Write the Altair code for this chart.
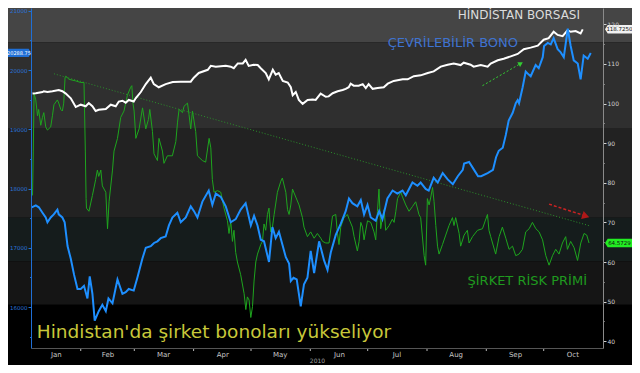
import altair as alt
import pandas as pd

# ---- data (day = day of year 2010, 1 = 1 Jan) ----
white_day = [6.8, 8.5, 12.0, 12.7, 14.6, 17.2, 20.5, 22.4, 24.2, 26.8,
             29.4, 32.0, 34.6, 36.2, 38.1, 39.8, 41.4, 45.1, 47.7, 50.3,
             51.9, 53.8, 55.5, 57.1, 59.7, 60.7, 63.4, 66.0, 68.6, 70.2,
             72.8, 76.4, 80.1, 84.3, 89.5, 91.1, 93.7, 98.4, 100.0, 102.6,
             107.8, 110.4, 112.0, 114.1, 116.7, 118.2, 119.8, 122.4, 124.5, 126.1,
             128.7, 130.3, 132.4, 133.9, 135.5, 137.6, 140.2, 141.8, 142.8, 144.4,
             146.0, 148.0, 150.6, 153.3, 154.8, 157.4, 160.1, 161.6, 163.7, 166.3,
             168.9, 170.5, 172.1, 173.1, 174.7, 177.3, 179.4, 181.0, 182.5, 184.6,
             187.2, 190.4, 192.5, 195.6, 200.3, 202.9, 206.1, 209.7, 213.4, 216.5,
             220.2, 223.8, 227.0, 230.6, 232.2, 235.8, 237.4, 241.1, 244.7, 246.3,
             250.0, 253.1, 256.8, 260.4, 263.6, 267.2, 270.9, 274.0, 276.6, 279.2,
             281.3, 283.9, 286.5, 288.1, 290.7, 293.3, 294.4]
white_val = [102.5, 102.6, 102.9, 103.1, 102.9, 103.1, 103.4, 103.1, 102.5, 101.3,
             99.1, 99.7, 99.3, 100.1, 99.3, 98.1, 98.4, 98.6, 99.7, 99.3,
             100.5, 100.7, 100.2, 100.9, 100.5, 101.3, 102.9, 104.9, 106.5, 104.9,
             104.1, 104.9, 105.4, 105.5, 105.5, 106.5, 107.7, 108.5, 109.5, 109.3,
             109.5, 109.3, 108.9, 110.1, 110.1, 111.0, 109.5, 109.8, 109.7, 108.9,
             107.7, 106.1, 108.5, 107.3, 107.7, 105.7, 105.3, 104.1, 102.1, 102.9,
             100.9, 99.9, 100.9, 101.0, 100.9, 102.5, 101.7, 101.8, 102.6, 103.1,
             103.4, 103.7, 104.1, 105.0, 104.5, 104.5, 104.9, 103.9, 104.9, 103.7,
             103.9, 104.1, 105.0, 105.7, 106.1, 106.1, 106.9, 107.1, 107.7, 108.1,
             109.3, 109.8, 110.1, 109.7, 110.3, 109.8, 109.3, 109.7, 109.3, 110.1,
             110.9, 111.3, 111.9, 112.5, 113.7, 114.1, 114.6, 116.1, 116.5, 118.1,
             117.3, 117.0, 118.5, 118.1, 118.3, 117.7, 118.7]

blue_day = [6.4, 8.5, 10.1, 12.0, 13.7, 14.6, 16.3, 17.9, 19.8, 20.5,
            22.4, 23.6, 25.1, 26.8, 28.5, 30.3, 32.0, 33.7, 35.5, 36.7,
            38.1, 39.3, 41.4, 43.3, 45.1, 46.5, 48.6, 51.2, 53.8, 55.5,
            57.1, 59.7, 61.6, 64.2, 66.0, 68.6, 70.3, 72.1, 73.8, 76.4,
            78.1, 79.9, 82.5, 84.3, 86.9, 89.5, 91.2, 93.0, 95.6, 98.9,
            100.8, 102.6, 105.2, 107.8, 110.4, 113.0, 115.6, 118.2, 120.9, 122.6,
            124.4, 126.1, 127.8, 130.4, 132.2, 133.9, 135.6, 137.4, 139.2, 140.9,
            141.8, 143.2, 144.9, 147.0, 148.7, 150.5, 152.2, 154.0, 156.6, 159.2,
            161.0, 162.7, 165.3, 167.9, 170.5, 172.2, 174.0, 176.6, 178.4, 180.1,
            181.9, 183.6, 186.2, 188.0, 189.7, 192.3, 195.0, 197.5, 200.2, 201.9,
            205.4, 208.0, 209.7, 212.3, 213.9, 216.5, 218.6, 221.2, 223.8, 226.5,
            229.1, 231.7, 232.4, 235.0, 237.6, 239.7, 241.3, 244.7, 247.5, 249.1,
            250.5, 252.6, 254.2, 255.7, 257.8, 259.4, 260.4, 261.1, 263.0, 264.6,
            266.2, 267.2, 269.8, 271.4, 273.5, 274.2, 276.1, 277.7, 279.2, 281.3,
            282.9, 284.5, 286.6, 288.1, 289.7, 291.8, 293.3, 294.9, 297.0, 298.6]
blue_val = [17684, 17716, 17684, 17592, 17512, 17431, 17512, 17565, 17645, 17565,
            17512, 17431, 17029, 16815, 16547, 16306, 16306, 16359, 16145, 16519,
            16225, 15770, 15931, 16037, 15931, 16145, 16064, 16466, 16225, 16252,
            16306, 16278, 16494, 16815, 17002, 17029, 17082, 17110, 17163, 17190,
            17378, 17512, 17592, 17431, 17512, 17700, 17619, 17512, 17780, 17967,
            17725, 17914, 17860, 17700, 17431, 17484, 17645, 17753, 17378, 17539,
            17378, 17137, 17110, 16761, 17351, 17163, 17270, 17056, 16841, 16735,
            16439, 16494, 16466, 16011, 16386, 16494, 16949, 16574, 17110, 16788,
            16627, 16921, 17217, 17404, 17619, 17833, 17753, 17700, 17806, 17565,
            17725, 17512, 17458, 17619, 17484, 17833, 17967, 17914, 17967, 17886,
            18102, 18047, 18102, 17994, 17967, 18182, 18102, 18262, 18155, 18074,
            18208, 18316, 18423, 18449, 18316, 18208, 18208, 18262, 18316, 18529,
            18637, 18690, 18906, 19147, 19280, 19441, 19494, 19441, 19710, 19977,
            19924, 19896, 20084, 20031, 20218, 20406, 20459, 20433, 20539, 20353,
            20298, 20218, 20700, 20406, 20165, 20112, 19843, 20245, 20192, 20289]

green_day = [6.8, 7.2, 7.6, 8.5, 9.4, 10.0, 11.1, 12.0, 12.7, 13.7,
             14.6, 16.3, 17.2, 18.0, 19.8, 20.5, 21.6, 22.4, 23.1, 23.8,
             24.2, 25.9, 29.4, 32.0, 33.7, 34.4, 34.8, 35.0, 36.3, 38.1,
             39.8, 40.7, 41.4, 42.5, 43.3, 45.1, 46.0, 46.8, 48.6, 49.4,
             51.2, 52.9, 54.6, 56.4, 58.1, 58.7, 59.3, 59.9, 60.8, 62.5,
             64.3, 66.0, 67.4, 68.1, 69.5, 70.3, 72.1, 72.9, 74.7, 75.5,
             77.3, 79.9, 81.7, 82.6, 83.4, 85.2, 86.0, 87.8, 88.6, 89.5,
             90.4, 92.1, 93.0, 95.6, 97.3, 99.1, 100.0, 100.8, 101.7, 103.5,
             105.2, 106.9, 108.7, 109.5, 110.4, 111.3, 112.1, 113.0, 113.9, 115.6,
             117.4, 118.3, 119.1, 120.0, 120.9, 121.8, 122.6, 123.5, 124.4, 126.1,
             127.0, 127.8, 128.7, 129.6, 130.4, 131.3, 132.2, 133.1, 134.8, 136.6,
             137.4, 139.2, 140.1, 140.9, 141.8, 142.7, 144.4, 146.1, 147.9, 148.7,
             150.5, 152.2, 154.0, 155.7, 157.5, 158.4, 160.1, 161.8, 163.6, 165.3,
             166.2, 167.0, 167.9, 169.6, 171.4, 172.3, 174.0, 174.9, 176.6, 177.5,
             178.4, 179.3, 180.1, 181.9, 183.6, 185.3, 186.2, 187.1, 187.9, 188.8,
             189.7, 190.6, 191.4, 193.2, 194.9, 195.8, 196.7, 197.6, 199.3, 200.2,
             201.9, 203.6, 205.4, 207.1, 208.8, 209.7, 211.5, 212.3, 213.2, 214.1,
             215.0, 215.9, 216.7, 217.6, 218.5, 219.3, 221.1, 222.8, 224.5, 226.3,
             227.1, 228.0, 229.8, 230.6, 232.4, 234.1, 235.0, 236.8, 239.4, 242.0,
             244.6, 245.4, 246.3, 248.9, 250.7, 252.4, 254.2, 255.9, 257.7, 259.4,
             261.1, 262.9, 264.6, 266.4, 268.1, 269.9, 271.6, 273.4, 275.1, 276.8,
             278.6, 280.3, 282.0, 283.8, 285.5, 286.4, 288.1, 289.9, 291.7, 293.4,
             295.1, 296.5, 297.7]
green_val = [76.8, 88.0, 102.5, 100.9, 96.9, 98.5, 94.5, 96.5, 97.7, 94.1,
             93.3, 94.1, 96.9, 99.7, 100.9, 100.1, 98.5, 98.1, 100.1, 106.5,
             106.9, 106.1, 105.7, 105.3, 105.3, 88.0, 76.0, 73.6, 72.8, 76.8,
             80.8, 83.2, 81.6, 83.2, 79.2, 77.6, 68.4, 75.2, 83.2, 88.0,
             91.2, 96.5, 98.1, 102.1, 104.1, 104.5, 100.1, 98.1, 91.2, 93.6,
             98.9, 93.6, 96.0, 98.5, 92.9, 87.3, 85.6, 91.2, 88.0, 84.9,
             86.8, 86.8, 90.4, 95.3, 98.5, 97.7, 99.3, 100.1, 97.2, 93.6,
             98.1, 92.9, 86.8, 85.6, 85.2, 91.2, 88.8, 80.8, 77.6, 78.0,
             77.6, 73.6, 70.4, 67.2, 70.4, 65.2, 68.0, 62.4, 60.0, 56.8,
             52.0, 48.0, 51.2, 50.4, 46.0, 48.8, 55.2, 60.0, 62.0, 64.4,
             65.2, 69.6, 68.0, 72.0, 73.6, 67.6, 68.8, 72.0, 77.6, 80.4,
             81.2, 77.6, 73.2, 72.0, 74.4, 78.4, 76.4, 74.4, 71.2, 68.8,
             66.4, 67.6, 66.0, 67.2, 66.0, 65.2, 64.8, 64.8, 71.6, 72.0,
             67.2, 64.4, 68.8, 71.2, 72.0, 70.8, 68.8, 66.4, 62.8, 65.2,
             70.0, 68.8, 65.6, 70.4, 70.0, 67.6, 65.6, 72.8, 78.4, 68.4,
             71.2, 73.2, 68.0, 69.2, 70.8, 70.0, 72.8, 76.0, 77.6, 76.4,
             74.4, 72.8, 74.0, 75.2, 72.0, 71.2, 61.6, 59.2, 76.0, 74.4,
             76.4, 78.8, 75.2, 69.2, 64.0, 62.0, 64.4, 66.8, 69.2, 71.2,
             69.2, 71.2, 67.2, 64.0, 66.8, 68.0, 64.8, 66.4, 68.0, 68.4,
             72.0, 68.0, 66.4, 62.0, 66.4, 68.8, 66.0, 63.2, 64.0, 61.6,
             62.0, 63.2, 67.6, 68.4, 70.0, 68.4, 67.6, 65.6, 61.6, 59.2,
             61.6, 63.2, 62.0, 64.8, 66.4, 63.2, 65.2, 63.6, 60.4, 64.8,
             67.2, 66.8, 64.8]

trend_day = [18.0, 297.6]
trend_val = [107.5, 69.2]
up_arrow_day = [242.0, 262.0]
up_arrow_val = [104.5, 110.1]
down_arrow_day = [276.8, 296.0]
down_arrow_val = [74.6, 71.6]

band_top = [124.1, 115.4, 93.6, 71.2, 60.2, 49.2]
band_bottom = [115.4, 93.6, 71.2, 60.2, 49.2, 38.3]
band_color = ["#454545", "#2f2f2f", "#222222", "#151c1c", "#151515", "#000000"]

label_month = [1, 2, 3, 4, 5, 6, 7, 8, 9, 10]
label_date = [19, 15, 16, 16, 16, 16, 16, 16, 16, 16]
tick_month_starts = ["2010-02-01", "2010-03-01", "2010-04-01", "2010-05-01", "2010-06-01",
                     "2010-07-01", "2010-08-01", "2010-09-01", "2010-10-01"]

ann_text = ["HİNDİSTAN BORSASI", "ÇEVRİLEBİLİR BONO", "ŞİRKET RİSK PRİMİ"]
ann_day = [261.0, 226.5, 265.4]
ann_val = [122.3, 115.2, 55.1]
ann_color = ["#dcdcdc", "#3f73d0", "#1f9a1f"]
ann_size = [12.0, 13.0, 13.0]

title_text = "Hindistan'da şirket bonoları yükseliyor"
title_day = 9.0
title_val = 42.4

right_tag_val = [118.725, 64.8]
right_tag_text = ["118.7250", "64.5729"]
right_tag_fill = ["#f2f2f2", "#22ee22"]
left_tag_val = 20288.75
left_tag_text = "20288.75"


def to_dates(days):
    return pd.Timestamp("2009-12-31") + pd.to_timedelta(days, unit="D")


df_white = pd.DataFrame({"date": to_dates(white_day), "val": white_val})
df_blue = pd.DataFrame({"date": to_dates(blue_day), "val": blue_val})
df_green = pd.DataFrame({"date": to_dates(green_day), "val": green_val})
df_trend = pd.DataFrame({"date": to_dates(trend_day), "val": trend_val})
df_up = pd.DataFrame({"date": to_dates(up_arrow_day), "val": up_arrow_val})
df_down = pd.DataFrame({"date": to_dates(down_arrow_day), "val": down_arrow_val})
df_heads = pd.DataFrame({"date": to_dates([up_arrow_day[1], down_arrow_day[1]]),
                         "val": [up_arrow_val[1], down_arrow_val[1]],
                         "ang": [329, 18], "color": ["#33cc33", "#b01818"],
                         "sz": [30, 70]})
df_bands = pd.DataFrame({"top": band_top, "bottom": band_bottom, "color": band_color})
df_ticks = pd.DataFrame({"date": pd.to_datetime(tick_month_starts)})
df_ann = pd.DataFrame({"date": to_dates(ann_day), "val": ann_val, "text": ann_text,
                       "color": ann_color, "fs": ann_size})
df_title = pd.DataFrame({"date": to_dates([title_day]), "val": [title_val], "text": [title_text]})
df_rtag = pd.DataFrame({"val": right_tag_val, "text": right_tag_text, "fill": right_tag_fill})
df_ltag = pd.DataFrame({"val": [left_tag_val], "text": [left_tag_text]})

W, H = 572, 340
PL, PR, PT, PB = 23, 29, 0, 17
FONT = "DejaVu Sans"

x_scale = alt.Scale(domain=[alt.DateTime(year=2010, month=1, date=6),
                            alt.DateTime(year=2010, month=11, date=1)])
x_axis = alt.Axis(values=[alt.DateTime(year=2010, month=m, date=d)
                          for m, d in zip(label_month, label_date)],
                  format="%b", ticks=False, domainColor="#555555", zindex=1,
                  labelColor="#c8c8c8", labelFont=FONT, labelFontSize=7,
                  labelPadding=2, labelFlush=False, grid=False,
                  title="2010", titleColor="#a0a0a0", titleFont=FONT,
                  titleFontSize=6, titleFontWeight="normal", titlePadding=0)


def X():
    return alt.X("date:T", scale=x_scale, axis=x_axis)


r_scale = alt.Scale(domain=[38.3, 124.1])
r_axis = alt.Axis(orient="right", values=list(range(40, 121, 5)),
                  labelExpr="datum.value % 10 ? '' : datum.label",
                  format="d", title=None, grid=False, zindex=1,
                  domainColor="#8a8a8a", tickColor="#d0d0d0",
                  tickSize={"condition": {"test": "datum.value % 10 === 0", "value": 3}, "value": 1},
                  labelColor="#d0d0d0", labelFont=FONT, labelFontSize=6, labelPadding=1)

l_scale = alt.Scale(domain=[15309, 21048])
l_axis = alt.Axis(orient="left", values=list(range(15500, 21001, 500)),
                  labelExpr="datum.value % 1000 ? '' : datum.label",
                  format="d", title=None, grid=False, zindex=1,
                  domainColor="#1f6fd6", tickColor="#1f6fd6",
                  tickSize={"condition": {"test": "datum.value % 1000 === 0", "value": 3}, "value": 1.5},
                  labelColor="#2b74d9", labelFont=FONT, labelFontSize=5.5, labelPadding=1)


def RY(field="val"):
    return alt.Y(f"{field}:Q", scale=r_scale, axis=r_axis)


def LY(field="val"):
    return alt.Y(f"{field}:Q", scale=l_scale, axis=l_axis)


bands = alt.Chart(df_bands).mark_rect().encode(
    x=alt.value(-PL), x2=alt.value(W + PR),
    y=RY("top"), y2="bottom:Q",
    color=alt.Color("color:N", scale=None))

trend = alt.Chart(df_trend).mark_line(color="#2a8f2a", strokeWidth=1, strokeDash=[1, 2]).encode(
    x=X(), y=RY())

green = alt.Chart(df_green).mark_line(color="#1ea51e", strokeWidth=1).encode(x=X(), y=RY())
white = alt.Chart(df_white).mark_line(color="#ffffff", strokeWidth=2).encode(x=X(), y=RY())

up_line = alt.Chart(df_up).mark_line(color="#33cc33", strokeWidth=1, strokeDash=[2, 2]).encode(
    x=X(), y=RY())
down_line = alt.Chart(df_down).mark_line(color="#cc2222", strokeWidth=1.5, strokeDash=[3, 2]).encode(
    x=X(), y=RY())
heads = alt.Chart(df_heads).mark_point(shape="triangle-right", filled=True, opacity=1).encode(
    x=X(), y=RY(), angle=alt.Angle("ang:Q", scale=None),
    color=alt.Color("color:N", scale=None), size=alt.Size("sz:Q", scale=None))

ann = alt.Chart(df_ann).mark_text(font=FONT, align="center", baseline="middle").encode(
    x=X(), y=RY(), text="text:N",
    color=alt.Color("color:N", scale=None), size=alt.Size("fs:Q", scale=None))

title = alt.Chart(df_title).mark_text(font=FONT, align="left", baseline="middle",
                                      fontSize=18.5, color="#c8c83a").encode(
    x=X(), y=RY(), text="text:N")

month_ticks = alt.Chart(df_ticks).mark_rule(color="#bbbbbb", strokeWidth=1).encode(
    x=X(), y=alt.value(H), y2=alt.value(H + 3))

rtag_shape = alt.Chart(df_rtag).mark_point(
    shape="M-1,0L-0.8,-0.32L1,-0.32L1,0.32L-0.8,0.32Z", filled=True, opacity=1,
    size=729, strokeWidth=0).encode(
    x=alt.value(W + 15.5), y=RY(), color=alt.Color("fill:N", scale=None))
rtag_text = alt.Chart(df_rtag).mark_text(font=FONT, fontSize=5.5, color="#111111",
                                         align="center", baseline="middle").encode(
    x=alt.value(W + 16.5), y=RY(), text="text:N")

blue = alt.Chart(df_blue).mark_line(color="#1e8fff", strokeWidth=2).encode(x=X(), y=LY())
ltag_shape = alt.Chart(df_ltag).mark_point(
    shape="M-1,-0.36L0.8,-0.36L1,0L0.8,0.36L-1,0.36Z", filled=True, opacity=1,
    size=529, strokeWidth=0, color="#1f6fd6").encode(
    x=alt.value(-PL + 11.5), y=LY())
ltag_text = alt.Chart(df_ltag).mark_text(font=FONT, fontSize=5, color="#ffffff",
                                         align="center", baseline="middle").encode(
    x=alt.value(-PL + 11), y=LY(), text="text:N")

right_group = alt.layer(bands, trend, green, white, up_line, down_line, heads,
                        ann, title, month_ticks, rtag_shape, rtag_text)
left_group = alt.layer(blue, ltag_shape, ltag_text)

chart = alt.layer(right_group, left_group).resolve_scale(y="independent").properties(
    width=W, height=H,
    padding={"left": PL, "right": PR, "top": PT, "bottom": PB},
    autosize=alt.AutoSizeParams(type="none"),
    background="#000000",
).configure_view(strokeWidth=0)

chart.save("out.html", embed_options={"renderer": "svg", "actions": False})
